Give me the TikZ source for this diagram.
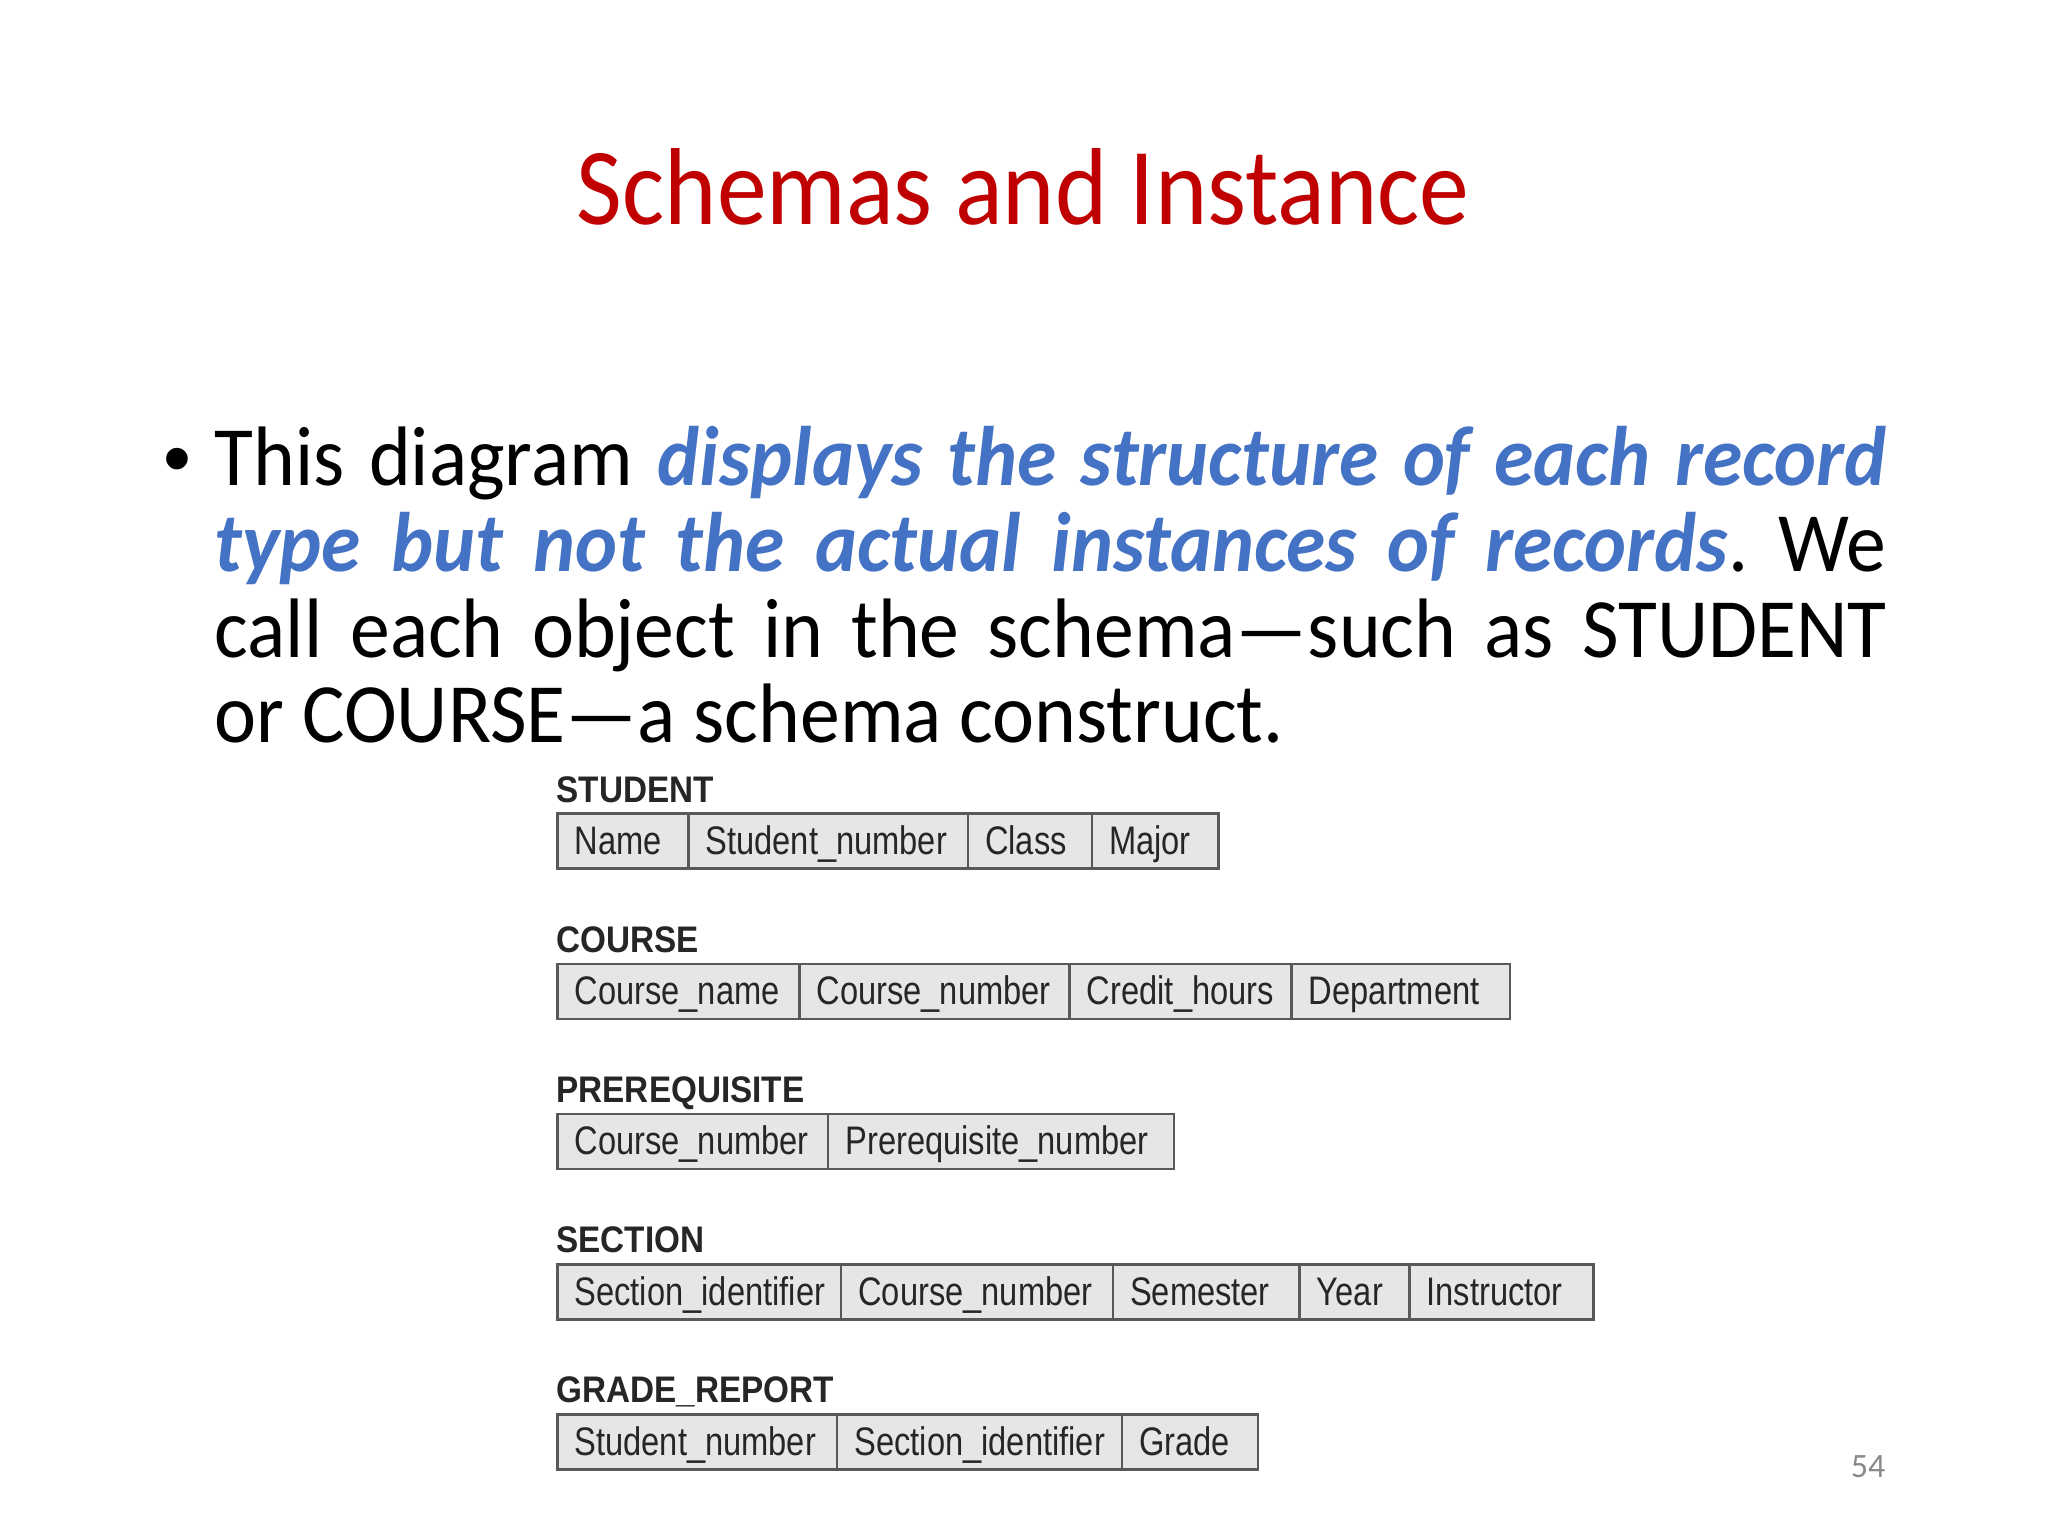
\documentclass[tikz,border=0pt]{standalone}
\usepackage{fontspec}
\setmainfont{Carlito}
\newfontfamily\tabfont[FakeStretch=0.82]{Liberation Sans}
\newfontfamily\tablabfont[FakeStretch=0.9]{Liberation Sans}
\newfontfamily\bulfont{Liberation Sans}
\definecolor{titlered}{HTML}{C00000}
\definecolor{accentblue}{HTML}{4472C4}
\definecolor{cellfill}{HTML}{E6E6E6}
\definecolor{cellline}{HTML}{595959}
\definecolor{pagenum}{HTML}{898989}
\def\pxu{0.3515625pt}
\frenchspacing
\tikzset{
  cellbox/.style={draw=cellline, line width=0.9pt, fill=cellfill, inner sep=0pt,
    minimum height={55*\pxu}, anchor=north west},
  celltext/.style={anchor=base west, inner sep=0pt,
    font=\tabfont\fontsize{14}{16}\selectfont, text=black!85},
  tablabel/.style={anchor=base west, inner sep=0pt,
    font=\tablabfont\bfseries\fontsize{13}{15}\selectfont, text=black!85},
  bodyline/.style={anchor=base west, inner sep=0pt, font=\fontsize{28}{30}\selectfont}
}
% name, x1, x2, ytop, text
\newcommand\tcell[5]{%
  \node[cellbox, minimum width={(#3-#2)*\pxu}] (#1) at (#2,#4) {};
  \path (#1.north west) ++(18,42) node[celltext] (#1t) {#5};
}
\newcommand\blue[1]{\textcolor{accentblue}{\bfseries\itshape #1}}
\newcommand\tall[1]{\scalebox{1}[1.06]{#1}}
\begin{document}
\begin{tikzpicture}[x=\pxu, y=-\pxu]
\useasboundingbox (0,0) rectangle (2048,1536);
\fill[white] (0,0) rectangle (2048,1536);

\node[anchor=base, inner sep=0pt, font=\fontsize{35}{40}\selectfont, text=titlered] (title) at (1023,225) {\scalebox{1}[1.1]{Schemas and Instance}};

\node[bodyline, font=\bulfont\fontsize{28}{30}\selectfont] (bullet) at (163,486) {\textbullet};
\node[bodyline] (l1) at (214,486) {\tall{\makebox[587.8pt][s]{This diagram \blue{displays the structure of each record}}}};
\node[bodyline] (l2) at (214,572) {\tall{\makebox[587.8pt][s]{\blue{type but not the actual instances of records}. We}}};
\node[bodyline] (l3) at (214,657) {\tall{\makebox[587.8pt][s]{call each object in the schema---such as STUDENT}}};
\node[bodyline] (l4) at (214,743) {\tall{or COURSE---a schema construct.}};

% STUDENT
\node[tablabel] (lstudent) at (556,802) {STUDENT};
\tcell{s1}{556}{687}{812}{Name}
\tcell{s2}{687}{966.5}{812}{Student\_number}
\tcell{s3}{966.5}{1090.6}{812}{Class}
\tcell{s4}{1090.6}{1217}{812}{Major}

% COURSE
\node[tablabel] (lcourse) at (556,952) {COURSE};
\tcell{c1}{556}{798}{962.6}{Course\_name}
\tcell{c2}{798}{1068.4}{962.6}{Course\_number}
\tcell{c3}{1068.4}{1290.4}{962.6}{Credit\_hours}
\tcell{c4}{1290.4}{1508.5}{962.6}{Department}

% PREREQUISITE
\node[tablabel] (lprereq) at (556,1102.3) {PREREQUISITE};
\tcell{p1}{556}{826.8}{1112.8}{Course\_number}
\tcell{p2}{826.8}{1172.9}{1112.8}{Prerequisite\_number}

% SECTION
\node[tablabel] (lsection) at (556,1252.5) {SECTION};
\tcell{e1}{556}{839.8}{1263}{Section\_identifier}
\tcell{e2}{839.8}{1111.5}{1263}{Course\_number}
\tcell{e3}{1111.5}{1298.3}{1263}{Semester}
\tcell{e4}{1298.3}{1408}{1263}{Year}
\tcell{e5}{1408}{1592}{1263}{Instructor}

% GRADE_REPORT
\node[tablabel] (lgrade) at (556,1402.7) {GRADE\_REPORT};
\tcell{g1}{556}{835.9}{1413.2}{Student\_number}
\tcell{g2}{835.9}{1120.6}{1413.2}{Section\_identifier}
\tcell{g3}{1120.6}{1256.5}{1413.2}{Grade}

\node[anchor=base east, inner sep=0pt, font=\fontsize{12}{14}\selectfont, text=pagenum] (page) at (1886,1477) {54};
\end{tikzpicture}
\end{document}
